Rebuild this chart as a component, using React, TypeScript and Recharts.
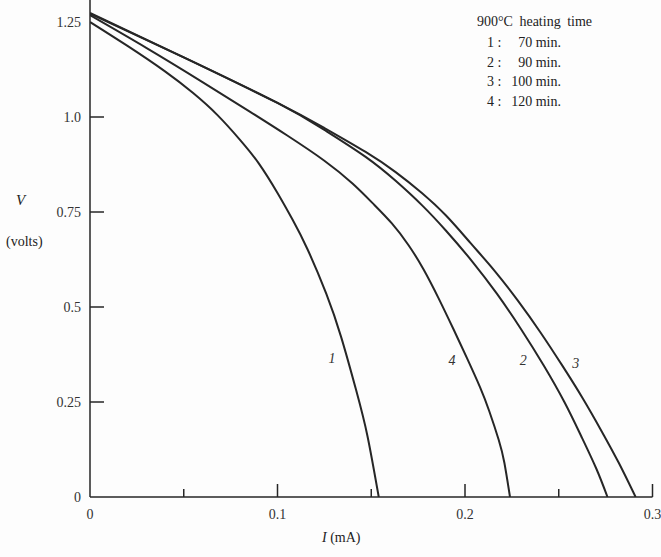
import React from 'react';
import { LineChart, Line, XAxis, YAxis, ReferenceDot } from 'recharts';

// Curve 1: 70 min
const c1I = [0, 0.02, 0.04, 0.055, 0.068, 0.08, 0.09, 0.1, 0.108, 0.116, 0.126, 0.134, 0.142, 0.148, 0.154];
const c1V = [1.25, 1.187, 1.12, 1.063, 1.005, 0.94, 0.878, 0.8, 0.73, 0.652, 0.535, 0.42, 0.28, 0.16, 0];
// Curve 2: 90 min
const c2I = [0, 0.05, 0.1, 0.125, 0.147, 0.163, 0.177, 0.19, 0.204, 0.217, 0.23, 0.242, 0.253, 0.262, 0.27, 0.276];
const c2V = [1.272, 1.157, 1.037, 0.966, 0.895, 0.832, 0.768, 0.7, 0.619, 0.535, 0.441, 0.346, 0.25, 0.16, 0.075, 0];
// Curve 3: 100 min
const c3I = [0, 0.05, 0.1, 0.125, 0.147, 0.163, 0.177, 0.19, 0.203, 0.216, 0.228, 0.24, 0.252, 0.263, 0.273, 0.282, 0.291];
const c3V = [1.274, 1.157, 1.037, 0.971, 0.908, 0.855, 0.8, 0.74, 0.668, 0.594, 0.518, 0.435, 0.345, 0.258, 0.172, 0.09, 0];
// Curve 4: 120 min
const c4I = [0, 0.03, 0.06, 0.085, 0.105, 0.125, 0.14, 0.151, 0.161, 0.17, 0.178, 0.186, 0.194, 0.201, 0.208, 0.213, 0.218, 0.221, 0.224];
const c4V = [1.268, 1.182, 1.092, 1.015, 0.952, 0.885, 0.825, 0.772, 0.72, 0.662, 0.598, 0.522, 0.44, 0.366, 0.289, 0.225, 0.15, 0.09, 0];

const xTicks = [0, 0.05, 0.1, 0.15, 0.2, 0.25, 0.3];
const xTickLabels: Record<string, string> = { '0': '0', '0.1': '0.1', '0.2': '0.2', '0.3': '0.3' };
const yTicks = [0, 0.25, 0.5, 0.75, 1.0, 1.25];
const yTickLabels: Record<string, string> = { '0': '0', '0.25': '0.25', '0.5': '0.5', '0.75': '0.75', '1': '1.0', '1.25': '1.25' };

const legendTitle = '900°C heating time';
const legendKeys = ['1', '2', '3', '4'];
const legendTimes = ['70 min.', '90 min.', '100 min.', '120 min.'];

const curveNames = ['1', '4', '2', '3'];
const curveLabelI = [0.129, 0.193, 0.231, 0.259];
const curveLabelV = [0.366, 0.36, 0.36, 0.353];

const zip = (xs: number[], ys: number[]) => xs.map((x, i) => ({ I: x, V: ys[i] }));
const curves = [zip(c1I, c1V), zip(c2I, c2V), zip(c3I, c3V), zip(c4I, c4V)];

const FONT = '"Liberation Serif", "DejaVu Serif", serif';
const INK = '#262626';

const XTick = (props: any) => {
  const { x, y, payload } = props;
  const v = payload.value;
  const key = String(Math.round(v * 100) / 100);
  const major = xTickLabels[key] !== undefined;
  return (
    <g>
      {v !== 0 && (
        <line x1={x} x2={x} y1={y} y2={y - (major ? 13 : 8)} stroke={INK} strokeWidth={1.5} />
      )}
      {major && (
        <text x={x} y={y + 22} textAnchor="middle" fontFamily={FONT} fontSize={14} fill="#333">
          {xTickLabels[key]}
        </text>
      )}
    </g>
  );
};

const YTick = (props: any) => {
  const { x, y, payload } = props;
  const v = payload.value;
  const key = String(Math.round(v * 100) / 100);
  return (
    <g>
      {v !== 0 && v !== 1.25 && (
        <line x1={x} x2={x + 14} y1={y} y2={y} stroke={INK} strokeWidth={1.5} />
      )}
      <text x={x - 9} y={y + 5} textAnchor="end" fontFamily={FONT} fontSize={14} fill="#333">
        {yTickLabels[key]}
      </text>
    </g>
  );
};

const txt: React.CSSProperties = {
  position: 'absolute',
  fontFamily: FONT,
  fontSize: 14,
  lineHeight: '16px',
  color: '#222',
  whiteSpace: 'nowrap',
};

export default function App() {
  return (
    <div style={{ position: 'absolute', left: 0, top: 0, width: 661, height: 557, background: '#fdfdfd' }}>
      <LineChart
        width={661}
        height={557}
        margin={{ top: 0, right: 8.5, bottom: 30, left: 0 }}
      >
        <XAxis
          type="number"
          dataKey="I"
          domain={[0, 0.3]}
          ticks={xTicks}
          interval={0}
          tickSize={0}
          tickMargin={0}
          tick={<XTick />}
          height={30}
          stroke={INK}
          strokeWidth={1.5}
          allowDataOverflow
        />
        <YAxis
          type="number"
          dataKey="V"
          domain={[0, 1.3079]}
          ticks={yTicks}
          interval={0}
          tickSize={0}
          tickMargin={0}
          tick={<YTick />}
          width={90}
          stroke={INK}
          strokeWidth={1.5}
          allowDataOverflow
        />
        {curves.map((d, i) => (
          <Line
            key={i}
            data={d}
            dataKey="V"
            type="natural"
            stroke={INK}
            strokeWidth={2}
            dot={false}
            isAnimationActive={false}
          />
        ))}
        {curveNames.map((n, i) => (
          <ReferenceDot
            key={n}
            x={curveLabelI[i]}
            y={curveLabelV[i]}
            r={0}
            shape={(p: any) => (
              <text x={p.cx} y={p.cy + 5} textAnchor="middle" fontFamily={FONT} fontStyle="italic" fontSize={14} fill="#333">
                {n}
              </text>
            )}
          />
        ))}
      </LineChart>

      <div style={{ ...txt, left: 477, top: 14, wordSpacing: 3 }}>{legendTitle}</div>
      {legendKeys.map((k, i) => (
        <div key={k} style={{ ...txt, left: 487, top: 35 + i * 19.7, width: 74 }}>
          <span>{k} :</span>
          <span style={{ position: 'absolute', right: 0 }}>{legendTimes[i]}</span>
        </div>
      ))}

      <div style={{ ...txt, left: 16, top: 192, fontStyle: 'italic', fontSize: 15 }}>V</div>
      <div style={{ ...txt, left: 6, top: 234 }}>(volts)</div>
      <div style={{ ...txt, left: 322, top: 530 }}>
        <span style={{ fontStyle: 'italic' }}>I</span> (mA)
      </div>
    </div>
  );
}
